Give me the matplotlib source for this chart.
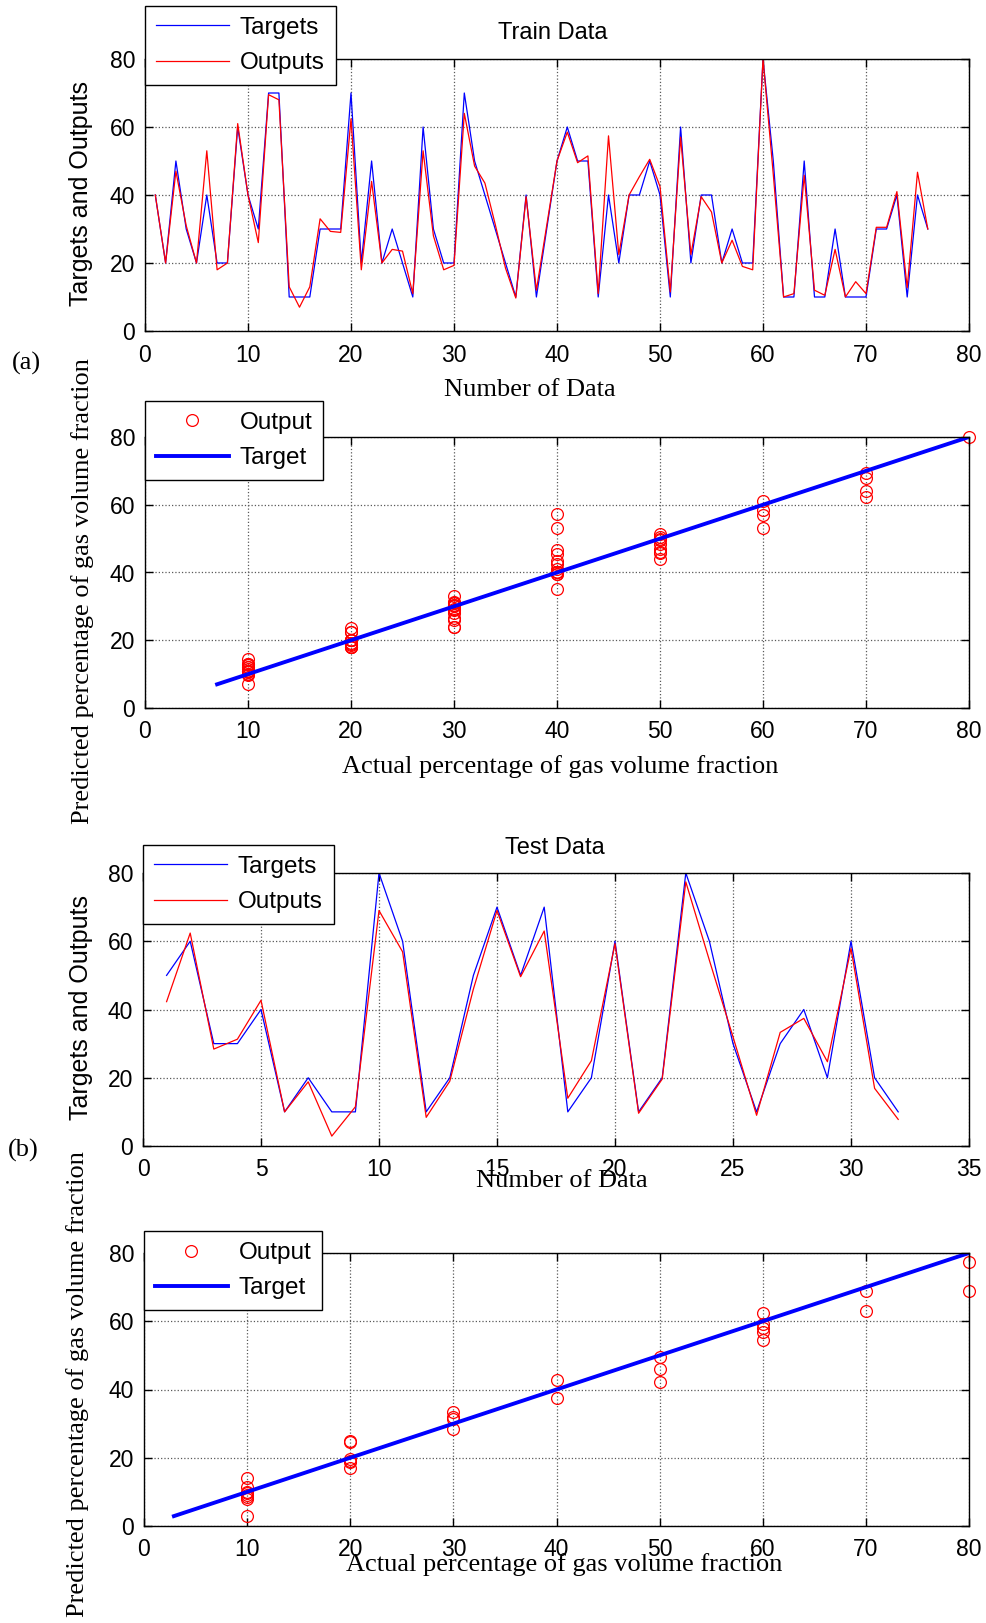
import numpy as np
import matplotlib.pyplot as plt

plt.rcParams['font.family'] = ['Liberation Sans', 'DejaVu Sans']
SERIF = ['Liberation Serif', 'DejaVu Serif']

# train set: targets and network outputs, sample 1..76
train_targets = [40, 20, 50, 30, 20, 40, 20, 20, 60, 40,
                 30, 70, 70, 10, 10, 10, 30, 30, 30, 70,
                 20, 50, 20, 30, 20, 10, 60, 30, 20, 20,
                 70, 50, 40, 30, 20, 10, 40, 10, 30, 50,
                 60, 50, 50, 10, 40, 20, 40, 40, 50, 40,
                 10, 60, 20, 40, 40, 20, 30, 20, 20, 80,
                 50, 10, 10, 50, 10, 10, 30, 10, 10, 10,
                 30, 30, 40, 10, 40, 30]
train_outputs = [40, 20, 47, 31, 20, 53, 18, 20, 61, 40,
                 26, 69.5, 68, 13, 7, 13, 33, 29.3, 29, 62.4,
                 18, 44, 20, 24, 23.5, 11, 53, 28, 18, 19.3,
                 64, 48.5, 43.5, 31.4, 18.5, 9.7, 39.5, 12, 31, 50,
                 58.5, 49.5, 51.5, 11, 57.4, 22.5, 40, 45.4, 50.5, 42.5,
                 11.5, 57, 22.5, 39.5, 35, 20, 26.7, 19, 18, 80,
                 46, 10, 11, 45.8, 12, 10.5, 24, 10, 14.5, 11,
                 30.5, 30.5, 41, 12.7, 46.7, 30]

# test set, sample 1..32
test_targets = [50, 60, 30, 30, 40, 10, 20, 10, 10, 80,
                60, 10, 20, 50, 70, 50, 70, 10, 20, 60,
                10, 20, 80, 60, 30, 10, 30, 40, 20, 60,
                20, 10]
test_outputs = [42.3, 62.4, 28.4, 31.3, 42.7, 10, 18.8, 2.9, 11.5, 69,
                56.9, 8.4, 19, 46, 69, 49.6, 63, 14, 25, 59.3,
                9.6, 19.6, 77.4, 54.4, 32, 9, 33.3, 37.4, 24.7, 57.9,
                16.9, 7.8]

W, H = 987, 1623


def box(l, t, r, b):
    return [l / W, 1 - b / H, (r - l) / W, (b - t) / H]


def put(x, y, s, **kw):
    fig.text(x / W, 1 - y / H, s, ha='center', va='center', **kw)


def style_axes(ax, xmax, xstep):
    ax.set_xlim(0, xmax)
    ax.set_ylim(0, 80)
    ax.set_xticks(np.arange(0, xmax + 1, xstep))
    ax.set_yticks(np.arange(0, 81, 20))
    ax.grid(True, ls=':', color='0.35', lw=0.9)
    ax.tick_params(direction='in', top=True, right=True, length=6,
                   width=1, labelsize=16.5)
    ax.tick_params(axis='x', pad=9)
    ax.tick_params(axis='y', pad=7)
    for s in ax.spines.values():
        s.set_linewidth(1.0)


def add_legend(ax, bottom):
    leg = ax.legend(loc='lower left', bbox_to_anchor=(0, bottom),
                    borderaxespad=0, fancybox=False, framealpha=1,
                    edgecolor='black', fontsize=17.5, handlelength=3.0,
                    handletextpad=0.45, borderpad=0.45, labelspacing=0.55)
    leg.get_frame().set_linewidth(1.0)
    leg.set_zorder(10)


def line_panel(ax, targets, outputs, xmax, xstep):
    n = np.arange(1, len(targets) + 1)
    ax.plot(n, targets, color='#0000ff', lw=0.9, label='Targets')
    ax.plot(n, outputs, color='#ff0000', lw=0.9, label='Outputs')
    style_axes(ax, xmax, xstep)


def fit_panel(ax, targets, outputs):
    ax.plot(targets, outputs, 'o', color='#ff0000', mfc='none', ms=8.5,
            mew=0.9, ls='none', clip_on=False, label='Output')
    lo = min(min(targets), min(outputs))
    hi = max(max(targets), max(outputs))
    ax.plot([lo, hi], [lo, hi], color='#0000ff', lw=2.8, label='Target')
    style_axes(ax, 80, 10)


fig = plt.figure(figsize=(W / 100, H / 100), dpi=100)

ax1 = fig.add_axes(box(145, 59, 969, 331))
line_panel(ax1, train_targets, train_outputs, 80, 10)
add_legend(ax1, 0.904)

ax2 = fig.add_axes(box(145, 437, 969, 708))
fit_panel(ax2, train_targets, train_outputs)
add_legend(ax2, 0.841)

ax3 = fig.add_axes(box(143, 873, 969, 1146))
line_panel(ax3, test_targets, test_outputs, 35, 5)
add_legend(ax3, 0.813)

ax4 = fig.add_axes(box(144, 1253, 969, 1526))
fit_panel(ax4, test_targets, test_outputs)
add_legend(ax4, 0.79)

# titles, axis labels and panel tags
put(553, 33, 'Train Data', fontsize=17)
put(555, 848, 'Test Data', fontsize=17)
put(81, 194, 'Targets and Outputs', fontsize=18, rotation=90)
put(81, 1008, 'Targets and Outputs', fontsize=18, rotation=90)
put(530, 390, 'Number of Data', fontsize=19, family=SERIF)
put(562, 1181, 'Number of Data', fontsize=19, family=SERIF)
put(560, 767, 'Actual percentage of gas volume fraction', fontsize=19, family=SERIF)
put(564, 1565, 'Actual percentage of gas volume fraction', fontsize=19, family=SERIF)
put(83, 591, 'Predicted percentage of gas volume fraction', fontsize=19,
    family=SERIF, rotation=90)
put(78, 1384, 'Predicted percentage of gas volume fraction', fontsize=19,
    family=SERIF, rotation=90)
put(26, 363, '(a)', fontsize=19, family=SERIF)
put(23, 1150, '(b)', fontsize=19, family=SERIF)

fig.savefig('out.png', dpi=100)
